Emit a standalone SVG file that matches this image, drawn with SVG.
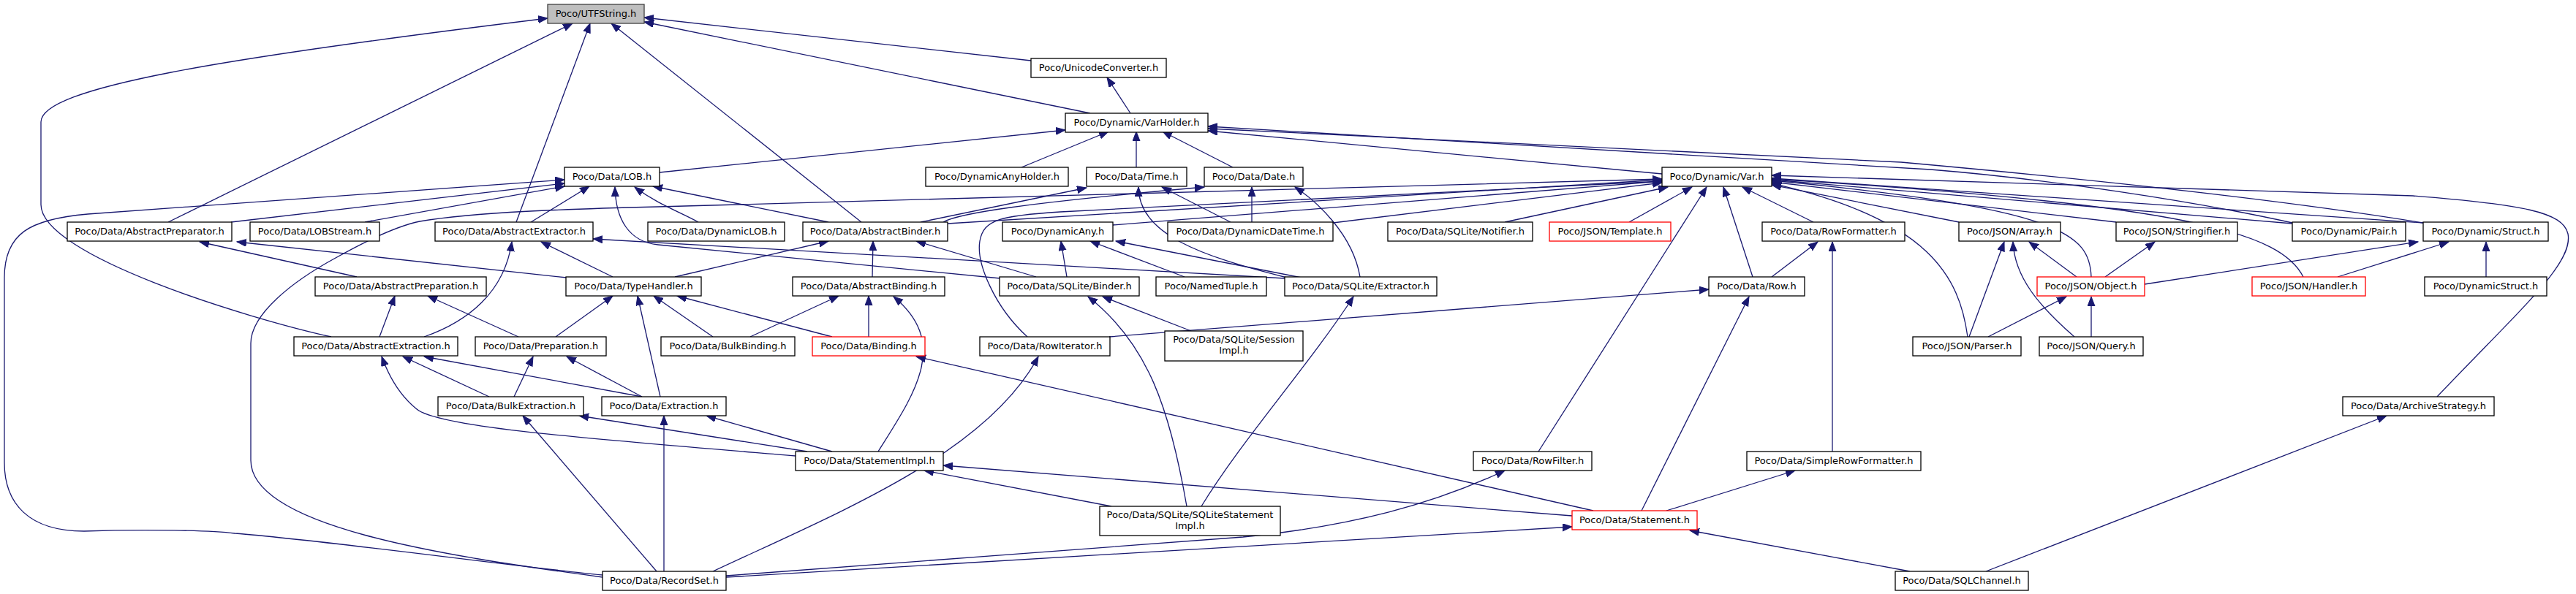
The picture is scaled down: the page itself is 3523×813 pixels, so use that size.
<svg xmlns="http://www.w3.org/2000/svg" width="3523" height="813" viewBox="0 0 3523 813">
<style>
.n rect{fill:#fff;stroke:#000;stroke-width:1.3}
.r rect{fill:#fff;stroke:#ff0000;stroke-width:1.3}
.g rect{fill:#bfbfbf;stroke:#404040;stroke-width:1.3}
text{font-family:"DejaVu Sans",sans-serif;font-size:13px;text-anchor:middle;fill:#000}
#edges path{fill:none;stroke:#191970;stroke-width:1.3;marker-end:url(#a)}
</style>
<defs>
<marker id="a" markerUnits="userSpaceOnUse" markerWidth="14" markerHeight="12" refX="13" refY="5" orient="auto"><path d="M0,0 L13,5 L0,10 z" fill="#191970" stroke="#191970" stroke-width="1"/></marker>
</defs>
<rect width="3523" height="813" fill="#fff"/>
<g id="edges">
<path d="M453,461 C340,436 56,350 56,280 L56,167 C56,120 300,80 749,25"/>
<path d="M230,304 L783,32"/>
<path d="M706,304 L807,32"/>
<path d="M1178,304 L836,32"/>
<path d="M1410,83 L881,24"/>
<path d="M1491,155 L881,30"/>
<path d="M1546,155 L1514,106"/>
<path d="M902,236 L1457,178"/>
<path d="M1397,229 L1516,180"/>
<path d="M1554,229 L1554,180"/>
<path d="M1686,229 L1590,180"/>
<path d="M2273,238 L1652,179"/>
<path d="M3135,305 C3000,275 2800,245 2640,232 L1652,173"/>
<path d="M3314,305 C3100,270 2800,240 2600,222 L1652,176"/>
<path d="M1133,304 L893,255"/>
<path d="M955,304 C930,290 900,280 868,256"/>
<path d="M726,304 L806,255"/>
<path d="M1368,381 L900,335 C860,331 842,300 841,256"/>
<path d="M824,787 C700,775 450,740 321,730 C290,726 200,724 115,727 C40,727 6,690 6,633 L6,380 C6,320 40,300 120,293 L772,246"/>
<path d="M824,790 C600,760 343,720 343,630 L343,470 C343,430 400,385 459,353 C500,330 540,310 574,303 C650,290 780,286 900,283 L2273,245"/>
<path d="M316,304 L772,251"/>
<path d="M499,304 L772,255"/>
<path d="M488,379 L273,331"/>
<path d="M775,380 L324,331"/>
<path d="M580,461 C640,440 690,400 700,331"/>
<path d="M838,379 L740,331"/>
<path d="M1757,381 L811,327"/>
<path d="M519,461 L540,405"/>
<path d="M709,461 L585,405"/>
<path d="M760,461 L838,405"/>
<path d="M903,543 L872,405"/>
<path d="M975,461 L894,405"/>
<path d="M1138,461 L926,405"/>
<path d="M923,379 L1133,330"/>
<path d="M1193,379 L1194,330"/>
<path d="M1417,379 L1253,330"/>
<path d="M1026,461 L1147,405"/>
<path d="M1188,461 L1188,405"/>
<path d="M1201,618 C1250,540 1300,470 1222,406"/>
<path d="M1459,379 L1451,330"/>
<path d="M1620,379 L1491,330"/>
<path d="M1780,380 L1526,330"/>
<path d="M1623,693 C1600,560 1570,470 1488,406"/>
<path d="M1629,453 L1508,406"/>
<path d="M1760,380 C1640,350 1557,320 1557,256"/>
<path d="M1683,304 L1589,256"/>
<path d="M1259,304 L1486,257"/>
<path d="M1290,304 C1310,292 1400,278 1647,256"/>
<path d="M1712,304 L1712,256"/>
<path d="M1860,379 C1850,320 1800,275 1771,256"/>
<path d="M1823,305 L2273,250"/>
<path d="M1522,308 L2273,248"/>
<path d="M2058,304 L2281,256"/>
<path d="M2228,304 L2314,256"/>
<path d="M2104,618 L2334,256"/>
<path d="M2397,379 L2357,256"/>
<path d="M2480,304 L2383,256"/>
<path d="M2691,461 C2680,380 2640,300 2423,251"/>
<path d="M2679,304 L2423,253"/>
<path d="M2894,304 L2423,249"/>
<path d="M2860,379 C2858,320 2820,285 2423,247"/>
<path d="M3135,306 L2423,246"/>
<path d="M3150,379 C3120,320 3000,280 2423,245"/>
<path d="M3314,305 L2423,244"/>
<path d="M3333,543 C3450,420 3520,360 3512,320 C3505,290 3450,280 3300,268 L2423,240"/>
<path d="M1405,461 C1360,420 1335,360 1340,330 C1345,300 1370,295 1450,290 L2273,248"/>
<path d="M1296,306 L2273,246"/>
<path d="M1517,461 L2337,396"/>
<path d="M2423,379 L2486,331"/>
<path d="M2506,618 L2506,331"/>
<path d="M975,782 C1150,700 1350,620 1420,488"/>
<path d="M2245,699 L2392,406"/>
<path d="M2279,699 L2455,644"/>
<path d="M2179,699 L1253,488"/>
<path d="M2150,706 L1290,637"/>
<path d="M2612,782 L2311,726"/>
<path d="M2716,782 L3264,569"/>
<path d="M993,790 L2150,721"/>
<path d="M993,788 L1700,735 C1850,720 1960,690 2058,644"/>
<path d="M1520,693 L1264,644"/>
<path d="M1643,693 C1700,600 1790,500 1851,406"/>
<path d="M1138,618 L966,569"/>
<path d="M1104,618 L792,569"/>
<path d="M1088,624 C800,600 600,585 570,560 C545,540 530,510 522,488"/>
<path d="M669,543 L551,488"/>
<path d="M878,543 L580,488"/>
<path d="M703,543 L729,488"/>
<path d="M878,543 L775,488"/>
<path d="M898,782 L715,569"/>
<path d="M908,782 L908,569"/>
<path d="M2840,379 L2775,331"/>
<path d="M2837,461 C2790,420 2755,380 2753,331"/>
<path d="M2693,461 L2741,331"/>
<path d="M2879,379 L2947,331"/>
<path d="M2933,389 L3307,331"/>
<path d="M3197,379 L3349,331"/>
<path d="M3400,379 L3400,331"/>
<path d="M2719,461 L2826,406"/>
<path d="M2860,461 L2860,406"/>
</g>
<g id="utfstring" class="g"><rect x="749" y="6" width="132" height="26"/><text x="815" y="23">Poco/UTFString.h</text></g>
<g id="unicodeconverter" class="n"><rect x="1410" y="80" width="185" height="26"/><text x="1502.5" y="97">Poco/UnicodeConverter.h</text></g>
<g id="varholder" class="n"><rect x="1457" y="155" width="195" height="26"/><text x="1554.5" y="172">Poco/Dynamic/VarHolder.h</text></g>
<g id="lob" class="n"><rect x="772" y="229" width="130" height="26"/><text x="837" y="246">Poco/Data/LOB.h</text></g>
<g id="dynamicanyholder" class="n"><rect x="1266" y="229" width="195" height="26"/><text x="1363.5" y="246">Poco/DynamicAnyHolder.h</text></g>
<g id="time" class="n"><rect x="1486" y="229" width="137" height="26"/><text x="1554.5" y="246">Poco/Data/Time.h</text></g>
<g id="date" class="n"><rect x="1647" y="229" width="135" height="26"/><text x="1714.5" y="246">Poco/Data/Date.h</text></g>
<g id="var" class="n"><rect x="2273" y="229" width="150" height="26"/><text x="2348" y="246">Poco/Dynamic/Var.h</text></g>
<g id="abstractpreparator" class="n"><rect x="92" y="304" width="225" height="26"/><text x="204.5" y="321">Poco/Data/AbstractPreparator.h</text></g>
<g id="lobstream" class="n"><rect x="342" y="304" width="177" height="26"/><text x="430.5" y="321">Poco/Data/LOBStream.h</text></g>
<g id="abstractextractor" class="n"><rect x="595" y="304" width="216" height="26"/><text x="703" y="321">Poco/Data/AbstractExtractor.h</text></g>
<g id="dynamiclob" class="n"><rect x="886" y="304" width="187" height="26"/><text x="979.5" y="321">Poco/Data/DynamicLOB.h</text></g>
<g id="abstractbinder" class="n"><rect x="1098" y="304" width="198" height="26"/><text x="1197" y="321">Poco/Data/AbstractBinder.h</text></g>
<g id="dynamicany" class="n"><rect x="1371" y="304" width="151" height="26"/><text x="1446.5" y="321">Poco/DynamicAny.h</text></g>
<g id="dynamicdatetime" class="n"><rect x="1597" y="304" width="226" height="26"/><text x="1710" y="321">Poco/Data/DynamicDateTime.h</text></g>
<g id="notifier" class="n"><rect x="1898" y="304" width="198" height="26"/><text x="1997" y="321">Poco/Data/SQLite/Notifier.h</text></g>
<g id="template" class="r"><rect x="2119" y="304" width="166" height="26"/><text x="2202" y="321">Poco/JSON/Template.h</text></g>
<g id="rowformatter" class="n"><rect x="2410" y="304" width="195" height="26"/><text x="2507.5" y="321">Poco/Data/RowFormatter.h</text></g>
<g id="array" class="n"><rect x="2679" y="304" width="139" height="26"/><text x="2748.5" y="321">Poco/JSON/Array.h</text></g>
<g id="stringifier" class="n"><rect x="2894" y="304" width="166" height="26"/><text x="2977" y="321">Poco/JSON/Stringifier.h</text></g>
<g id="pair" class="n"><rect x="3135" y="304" width="155" height="26"/><text x="3212.5" y="321">Poco/Dynamic/Pair.h</text></g>
<g id="struct" class="n"><rect x="3314" y="304" width="171" height="26"/><text x="3399.5" y="321">Poco/Dynamic/Struct.h</text></g>
<g id="abstractpreparation" class="n"><rect x="431" y="379" width="234" height="26"/><text x="548" y="396">Poco/Data/AbstractPreparation.h</text></g>
<g id="typehandler" class="n"><rect x="774" y="379" width="185" height="26"/><text x="866.5" y="396">Poco/Data/TypeHandler.h</text></g>
<g id="abstractbinding" class="n"><rect x="1084" y="379" width="208" height="26"/><text x="1188" y="396">Poco/Data/AbstractBinding.h</text></g>
<g id="binder" class="n"><rect x="1367" y="379" width="191" height="26"/><text x="1462.5" y="396">Poco/Data/SQLite/Binder.h</text></g>
<g id="namedtuple" class="n"><rect x="1581" y="379" width="151" height="26"/><text x="1656.5" y="396">Poco/NamedTuple.h</text></g>
<g id="extractor" class="n"><rect x="1757" y="379" width="208" height="26"/><text x="1861" y="396">Poco/Data/SQLite/Extractor.h</text></g>
<g id="row" class="n"><rect x="2337" y="379" width="131" height="26"/><text x="2402.5" y="396">Poco/Data/Row.h</text></g>
<g id="object" class="r"><rect x="2786" y="379" width="147" height="26"/><text x="2859.5" y="396">Poco/JSON/Object.h</text></g>
<g id="handler" class="r"><rect x="3080" y="379" width="155" height="26"/><text x="3157.5" y="396">Poco/JSON/Handler.h</text></g>
<g id="dynamicstruct" class="n"><rect x="3316" y="379" width="167" height="26"/><text x="3399.5" y="396">Poco/DynamicStruct.h</text></g>
<g id="abstractextraction" class="n"><rect x="402" y="461" width="224" height="26"/><text x="514" y="478">Poco/Data/AbstractExtraction.h</text></g>
<g id="preparation" class="n"><rect x="650" y="461" width="179" height="26"/><text x="739.5" y="478">Poco/Data/Preparation.h</text></g>
<g id="bulkbinding" class="n"><rect x="904" y="461" width="183" height="26"/><text x="995.5" y="478">Poco/Data/BulkBinding.h</text></g>
<g id="binding" class="r"><rect x="1111" y="461" width="154" height="26"/><text x="1188" y="478">Poco/Data/Binding.h</text></g>
<g id="rowiterator" class="n"><rect x="1340" y="461" width="178" height="26"/><text x="1429" y="478">Poco/Data/RowIterator.h</text></g>
<g id="sessionimpl" class="n"><rect x="1593" y="453" width="189" height="41"/><text x="1687.5" y="469">Poco/Data/SQLite/Session</text><text x="1687.5" y="484">Impl.h</text></g>
<g id="parser" class="n"><rect x="2616" y="461" width="148" height="26"/><text x="2690" y="478">Poco/JSON/Parser.h</text></g>
<g id="query" class="n"><rect x="2789" y="461" width="142" height="26"/><text x="2860" y="478">Poco/JSON/Query.h</text></g>
<g id="bulkextraction" class="n"><rect x="599" y="543" width="199" height="26"/><text x="698.5" y="560">Poco/Data/BulkExtraction.h</text></g>
<g id="extraction" class="n"><rect x="823" y="543" width="170" height="26"/><text x="908" y="560">Poco/Data/Extraction.h</text></g>
<g id="archivestrategy" class="n"><rect x="3204" y="543" width="207" height="26"/><text x="3307.5" y="560">Poco/Data/ArchiveStrategy.h</text></g>
<g id="statementimpl" class="n"><rect x="1088" y="618" width="202" height="26"/><text x="1189" y="635">Poco/Data/StatementImpl.h</text></g>
<g id="rowfilter" class="n"><rect x="2015" y="618" width="162" height="26"/><text x="2096" y="635">Poco/Data/RowFilter.h</text></g>
<g id="simplerowformatter" class="n"><rect x="2389" y="618" width="238" height="26"/><text x="2508" y="635">Poco/Data/SimpleRowFormatter.h</text></g>
<g id="sqlitestatementimpl" class="n"><rect x="1504" y="693" width="247" height="40"/><text x="1627.5" y="709">Poco/Data/SQLite/SQLiteStatement</text><text x="1627.5" y="724">Impl.h</text></g>
<g id="statement" class="r"><rect x="2150" y="699" width="171" height="26"/><text x="2235.5" y="716">Poco/Data/Statement.h</text></g>
<g id="recordset" class="n"><rect x="824" y="782" width="169" height="26"/><text x="908.5" y="799">Poco/Data/RecordSet.h</text></g>
<g id="sqlchannel" class="n"><rect x="2592" y="782" width="182" height="26"/><text x="2683" y="799">Poco/Data/SQLChannel.h</text></g>
</svg>
